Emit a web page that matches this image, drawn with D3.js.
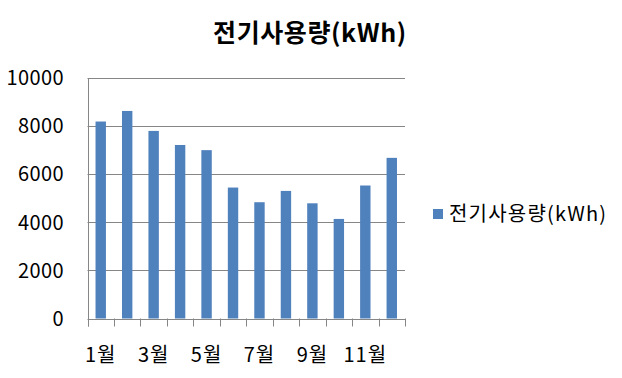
<!DOCTYPE html>
<html><head><meta charset="utf-8">
<script src="https://cdn.jsdelivr.net/npm/d3@7"></script>
<style>body{margin:0;background:#fff}svg{display:block}text{font-family:"Noto Sans CJK KR","Noto Sans",sans-serif}</style>
</head><body><svg id="c" width="622" height="378"></svg>
<script>
const months = ["1월","2월","3월","4월","5월","6월","7월","8월","9월","10월","11월","12월"];
const usage = [8190, 8630, 7800, 7215, 7000, 5445, 4835, 5305, 4790, 4140, 5530, 6680];
const yTicks = [0, 2000, 4000, 6000, 8000, 10000];
const title = "전기사용량(kWh)";
const seriesName = "전기사용량(kWh)";

(function () {
const svg = d3.select("#c");
const pl = 87.5, pr = 405, pt = 78, pb = 318.5;
const xb = d3.scaleBand().domain(months).range([pl, pr]);
const y = d3.scaleLinear().domain([0, 10000]).range([pb, pt]);

svg.append("g").selectAll("line").data(yTicks).join("line")
  .attr("x1", pl).attr("x2", pr)
  .attr("y1", d => Math.round(y(d)) + 0.5).attr("y2", d => Math.round(y(d)) + 0.5)
  .attr("stroke", "#868686").attr("stroke-width", 1);

svg.append("g").selectAll("text").data(yTicks).join("text")
  .attr("x", 64).attr("y", d => y(d)).attr("dy", "0.36em")
  .attr("text-anchor", "end").attr("font-size", 20).attr("letter-spacing", 0.4).attr("fill", "#000")
  .text(d => d);

svg.append("g").selectAll("rect").data(usage).join("rect")
  .attr("x", (d, i) => xb(months[i]) + xb.bandwidth() / 2 - 5.2)
  .attr("width", 10.4)
  .attr("y", d => y(d)).attr("height", d => y(0) - y(d))
  .attr("fill", "#4F81BD");

svg.append("line").attr("x1", Math.round(pl) + 0.5).attr("x2", Math.round(pl) + 0.5).attr("y1", pt).attr("y2", pb + 8)
  .attr("stroke", "#868686");
const edges = months.map(m => xb(m)).concat([pr]);
svg.append("g").selectAll("line").data(edges).join("line")
  .attr("x1", d => Math.round(d) + 0.5).attr("x2", d => Math.round(d) + 0.5)
  .attr("y1", pb).attr("y2", pb + 8).attr("stroke", "#868686");

svg.append("g").selectAll("text").data(months.filter((m, i) => i % 2 === 0)).join("text")
  .attr("x", d => xb(d) + xb.bandwidth() / 2).attr("y", 362)
  .attr("text-anchor", "middle").attr("font-size", 20).attr("letter-spacing", 1).attr("fill", "#000")
  .text(d => d);

svg.append("text").attr("x", 310).attr("y", 42).attr("text-anchor", "middle")
  .attr("font-size", 25).attr("font-weight", "bold").attr("letter-spacing", 0.6).attr("fill", "#000").text(title);

svg.append("rect").attr("x", 433).attr("y", 209).attr("width", 10).attr("height", 10).attr("fill", "#4F81BD");
svg.append("text").attr("x", 449).attr("y", 214).attr("dy", "0.36em").attr("font-size", 20).attr("letter-spacing", 1.2)
  .attr("fill", "#000").text(seriesName);
})();
</script></body></html>
